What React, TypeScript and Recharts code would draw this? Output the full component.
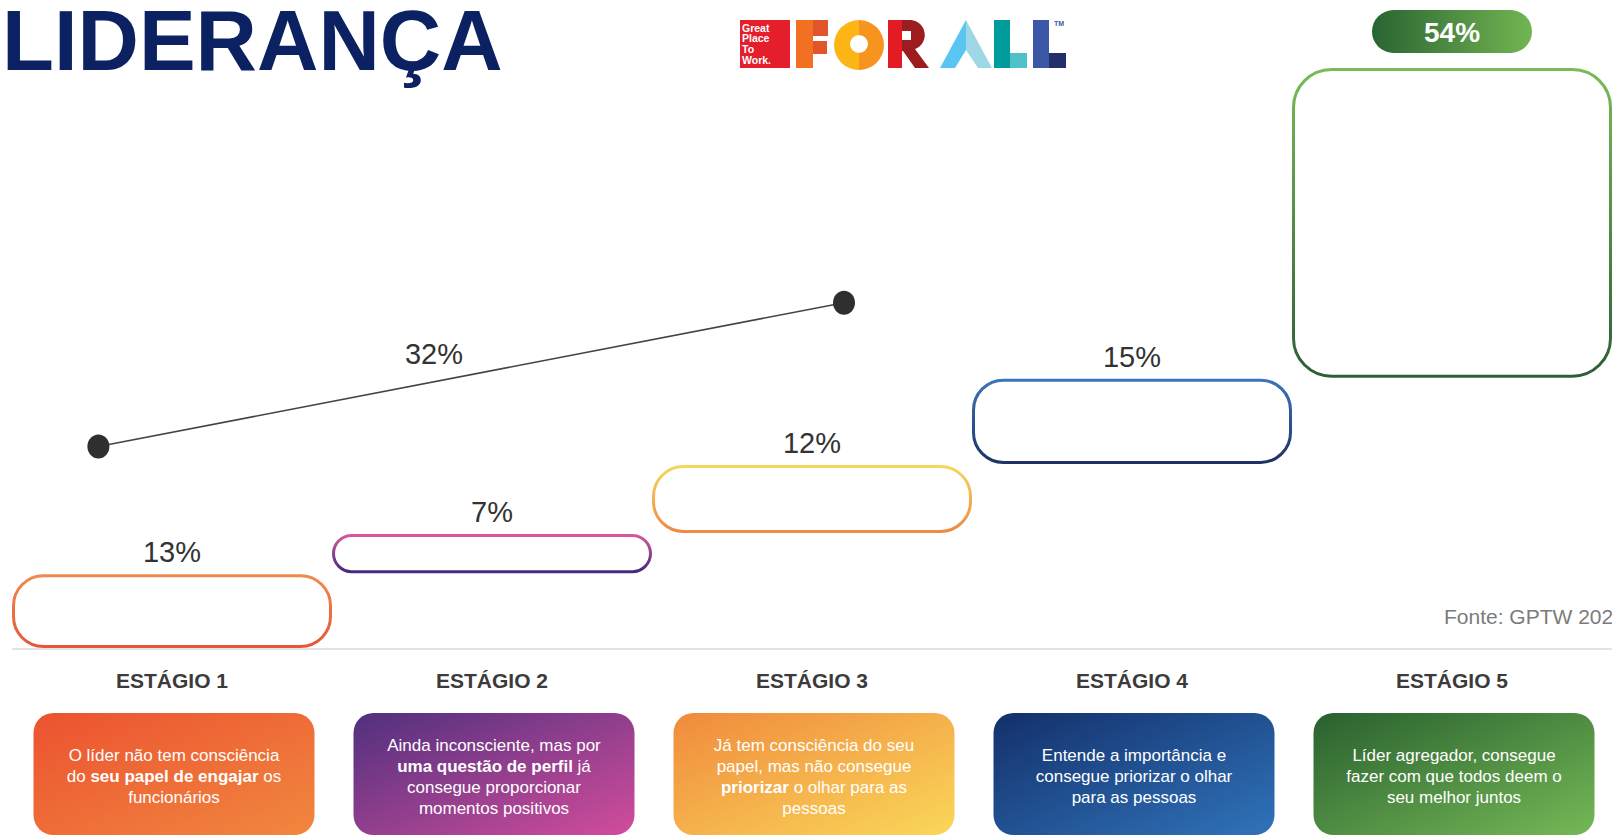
import React from 'react';
import { ComposedChart, Bar, XAxis, YAxis, Scatter, LabelList, ReferenceDot } from 'recharts';

const stages = ['ESTÁGIO 1', 'ESTÁGIO 2', 'ESTÁGIO 3', 'ESTÁGIO 4', 'ESTÁGIO 5'];
const shares = [13, 7, 12, 15, 54];

// ** marks the bold part of a line
const descriptions = [
  ['O líder não tem consciência', 'do **seu papel de engajar** os', 'funcionários'],
  ['Ainda inconsciente, mas por', '**uma questão de perfil** já', 'consegue proporcionar', 'momentos positivos'],
  ['Já tem consciência do seu', 'papel, mas não consegue', '**priorizar** o olhar para as', 'pessoas'],
  ['Entende a importância e', 'consegue priorizar o olhar', 'para as pessoas'],
  ['Líder agregador, consegue', 'fazer com que todos deem o', 'seu melhor juntos'],
];

const outlineTop = ['#F08A4C', '#D6589F', '#F4D65C', '#3D74BA', '#7ABB58'];
const outlineBottom = ['#E8553A', '#47297F', '#EE8A46', '#1D3266', '#2E5E35'];
const cardFrom = ['#EC5230', '#50307E', '#F08A3C', '#13306A', '#28602F'];
const cardTo = ['#F1873F', '#D24D9C', '#FAD75A', '#3073BA', '#76B856'];

// annotation line over the first three stages
const bracketX = [0.27, 2.6];
const bracketY = [35.2, 60.2];
const bracketLabel = '32%';

const data = stages.map((stage, i) => ({
  stage,
  base: shares.slice(0, i).reduce((a, b) => a + b, 0),
  share: shares[i],
}));
const bracket = bracketX.map((x, i) => ({ x, y: bracketY[i] }));

const FONT = '"Liberation Sans", Arial, sans-serif';

const StepBox = (props: any) => {
  const { x, y, width, height, index } = props;
  const sw = 3;
  const bx = x + sw / 2;
  const by = y + sw / 2;
  const bw = width - sw;
  const bh = height - sw - 1;
  const r = Math.min(bh / 2, index === 4 ? 38 : 30);
  return (
    <rect x={bx} y={by} width={bw} height={bh} rx={r} ry={r} fill="#fff"
      stroke={`url(#outline${index})`} strokeWidth={sw} />
  );
};

const ValueLabel = (props: any) => {
  const { x, y, width, value, index } = props;
  const cx = x + width / 2;
  if (index === stages.length - 1) {
    return (
      <g>
        <rect x={cx - 80} y={y - 58} width={160} height={43} rx={21.5} fill="url(#pill)" />
        <text x={cx} y={y - 26} textAnchor="middle" fontFamily={FONT} fontWeight="bold"
          fontSize={28} fill="#fff">{value}%</text>
      </g>
    );
  }
  return (
    <text x={cx} y={y - 12} textAnchor="middle" fontFamily={FONT} fontSize={29} fill="#333">
      {value}%
    </text>
  );
};

const StageTick = (props: any) => {
  const { x, y, payload } = props;
  const i = stages.indexOf(payload.value);
  const lines = descriptions[i] || [];
  const cw = 281;
  const ch = 122;
  const top = y + 64;
  const startY = top + ch / 2 - ((lines.length - 1) * 21) / 2 + 8;
  return (
    <g>
      <text x={x} y={y + 39} textAnchor="middle" fontFamily={FONT} fontWeight="bold"
        fontSize={21} fill="#3b3b3b">{payload.value}</text>
      <rect x={x + 2 - cw / 2} y={top} width={cw} height={ch} rx={20} fill={`url(#card${i})`} />
      <text textAnchor="middle" fontFamily={FONT} fontSize={17} fill="#fff">
        {lines.map((line, li) => (
          <tspan key={li} x={x + 2} y={startY + li * 21}>
            {line.split('**').map((seg, si) => (
              <tspan key={si} fontWeight={si % 2 ? 'bold' : 'normal'}>{seg}</tspan>
            ))}
          </tspan>
        ))}
      </text>
    </g>
  );
};

const BracketDot = (props: any) => (
  <ellipse cx={props.cx} cy={props.cy} rx={11} ry={12} fill="#2f2f2f" />
);

const Logo = () => (
  <svg width={1612} height={90} style={{ position: 'absolute', left: 0, top: 0 }}>
    <rect x={740} y={20} width={50} height={48} fill="#E41E2B" />
    {['Great', 'Place', 'To', 'Work.'].map((w, i) => (
      <text key={w} x={742} y={31.5 + i * 10.8} fontFamily={FONT} fontWeight="bold" fontSize={10.5}
        fill="#fff">{w}</text>
    ))}
    <rect x={796} y={20} width={17} height={48} fill="#F36F21" />
    <rect x={813} y={20} width={15} height={16} fill="#E2552A" />
    <rect x={813} y={41} width={14} height={13} fill="#E2552A" />
    <path d="M859,20 A25,25 0 0 0 859,70 Z" fill="#FDB515" />
    <path d="M859,20 A25,25 0 0 1 859,70 Z" fill="#F7941E" />
    <circle cx={859} cy={44} r={9} fill="#fff" />
    <rect x={888} y={20} width={14} height={48} fill="#E31B23" />
    <path d="M902,20 H911 A15,15 0 0 1 915,49 L929,68 H915 L903,51 H902 Z" fill="#9D1C20" />
    <rect x={902} y={31} width={9} height={9} fill="#fff" />
    <path d="M940,68 L966,20 L966,50 L955,68 Z" fill="#5BC5F2" />
    <path d="M966,20 L992,68 L978,68 L966,50 Z" fill="#9ED8E6" />
    <rect x={994} y={20} width={16} height={48} fill="#009B9B" />
    <rect x={1010} y={53} width={17} height={15} fill="#4FC1C8" />
    <rect x={1033} y={20} width={16} height={48} fill="#3C57A5" />
    <rect x={1049} y={53} width={17} height={15} fill="#232F6B" />
    <text x={1054} y={26} fontFamily={FONT} fontWeight="bold" fontSize={7} fill="#3C57A5">TM</text>
  </svg>
);

export default function App() {
  return (
    <div style={{ position: 'relative', width: 1612, height: 837, overflow: 'hidden', background: '#fff' }}>
      <style>{'body{margin:0}'}</style>
      <ComposedChart width={1612} height={837} data={data} barCategoryGap={0}
        margin={{ top: 68, right: 0, bottom: 148, left: 12 }}>
        <defs>
          {stages.map((s, i) => (
            <linearGradient key={`o${i}`} id={`outline${i}`} x1="0" y1="0" x2="0" y2="1">
              <stop offset="0%" stopColor={outlineTop[i]} />
              <stop offset="100%" stopColor={outlineBottom[i]} />
            </linearGradient>
          ))}
          {stages.map((s, i) => (
            <linearGradient key={`c${i}`} id={`card${i}`} x1="0" y1="0" x2="1" y2="1">
              <stop offset="0%" stopColor={cardFrom[i]} />
              <stop offset="100%" stopColor={cardTo[i]} />
            </linearGradient>
          ))}
          <linearGradient id="pill" x1="0" y1="0" x2="1" y2="0">
            <stop offset="0%" stopColor="#2A6432" />
            <stop offset="100%" stopColor="#72B552" />
          </linearGradient>
        </defs>
        <XAxis xAxisId="cat" dataKey="stage" type="category" height={40} tickLine={false}
          tickSize={0} tickMargin={0} axisLine={{ stroke: '#e4e4e4', strokeWidth: 2 }}
          interval={0} tick={(p: any) => <StageTick {...p} />} />
        <XAxis xAxisId="num" type="number" dataKey="x" domain={[0, 5]} hide />
        <YAxis type="number" domain={[0, 101]} hide />
        <YAxis yAxisId="num" type="number" dataKey="y" domain={[0, 101]} hide />
        <Bar xAxisId="cat" dataKey="base" stackId="w" fill="transparent" isAnimationActive={false} />
        <Bar xAxisId="cat" dataKey="share" stackId="w" isAnimationActive={false}
          shape={(p: any) => <StepBox {...p} />}>
          <LabelList dataKey="share" content={(p: any) => <ValueLabel {...p} />} />
        </Bar>
        <Scatter xAxisId="num" yAxisId="num" data={bracket} dataKey="y" isAnimationActive={false}
          line={{ stroke: '#444', strokeWidth: 1.5 }} shape={(p: any) => <BracketDot {...p} />} />
        <ReferenceDot xAxisId="num" yAxisId="num"
          x={bracketX[0] + 0.45 * (bracketX[1] - bracketX[0])}
          y={bracketY[0] + 0.45 * (bracketY[1] - bracketY[0])}
          r={0} fill="none" stroke="none"
          label={{ value: bracketLabel, position: 'top', offset: 18, fontSize: 29, fill: '#333', fontFamily: FONT }} />
      </ComposedChart>
      <div style={{
        position: 'absolute', left: 2, top: 0, fontFamily: FONT, fontWeight: 'bold',
        fontSize: 85, color: '#0B2161', lineHeight: '82px', whiteSpace: 'nowrap',
      }}>LIDERANÇA</div>
      <Logo />
      <div style={{
        position: 'absolute', left: 1444, top: 605, fontFamily: FONT, fontSize: 21,
        color: '#7b7b7b', whiteSpace: 'nowrap',
      }}>Fonte: GPTW 2023</div>
    </div>
  );
}
